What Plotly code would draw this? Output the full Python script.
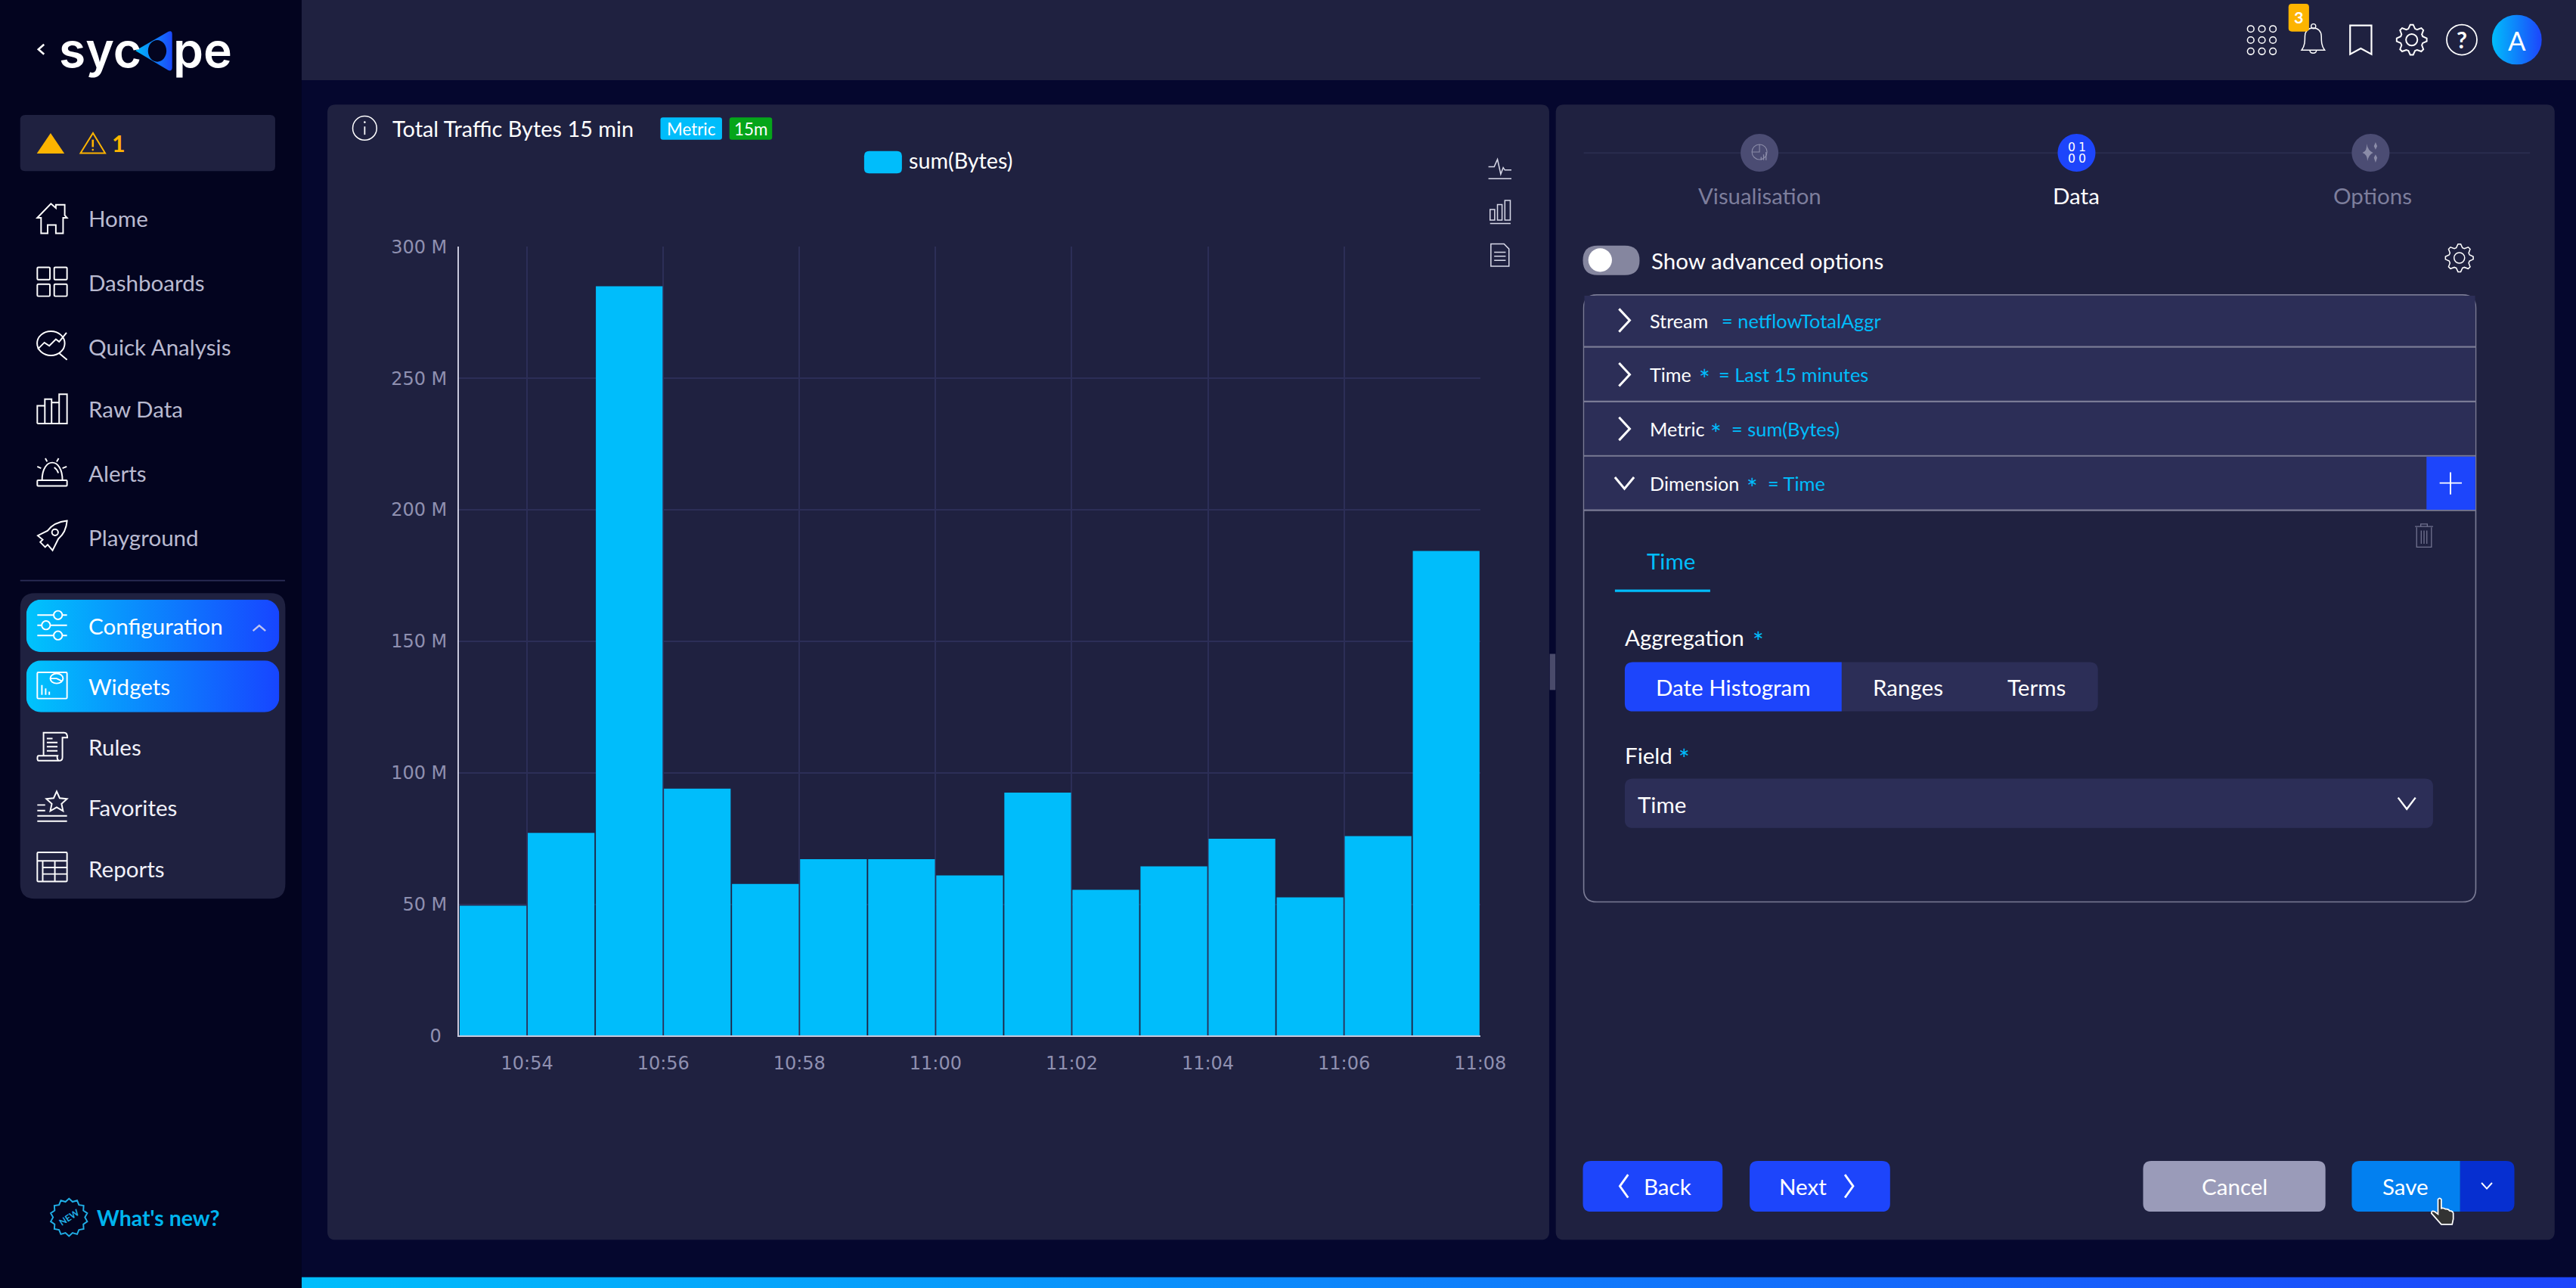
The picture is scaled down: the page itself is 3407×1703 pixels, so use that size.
import base64, math
import plotly.graph_objects as go

# ---------- chart data ----------
BAR_MINUTES = ["10:53", "10:54", "10:55", "10:56", "10:57", "10:58", "10:59", "11:00",
               "11:01", "11:02", "11:03", "11:04", "11:05", "11:06", "11:07"]
BYTES_M = [49.4, 77.1, 285, 93.9, 57.7, 67.1, 67.1, 60.9, 92.4, 55.5, 64.4, 74.9, 52.6, 75.9, 184.3]
X_TICKS = ["10:54", "10:56", "10:58", "11:00", "11:02", "11:04", "11:06", "11:08"]
Y_TICK_VALUES_M = [0, 50, 100, 150, 200, 250, 300]
Y_TICK_LABELS = ["0\u00a0", "50 M", "100 M", "150 M", "200 M", "250 M", "300 M"]
SERIES_NAME = "sum(Bytes)"
DAY = "2023-01-01"

# ---------- page geometry: chrome is described in the screenshot's 1568x784 layout units ----------
PX_W, PX_H = 3407, 1703
W, H = 1568.0, 784.0
S = PX_W / W
FONT = "Lato"
BG, SIDE, PANEL, ROW = "#05072e", "#03041f", "#1f2140", "#2c2e57"
BLUE, CYAN, AMBER = "#1d45fb", "#00bdfb", "#fdb400"
BORDER = "#7a7b95"

shapes, notes, images = [], [], []


def fx(x):
    return x / W


def fy(y):
    return 1 - y / H


def path(d, fill=None, line=None, lw=1.0, layer="above"):
    toks = d.replace(",", " ").split()
    out, i, cmd, axis = [], 0, "", 0
    for t in toks:
        if t.isalpha():
            cmd, axis = t, 0
            out.append(t)
        else:
            v = float(t)
            if cmd == "H":
                out.append(f"{fx(v):.6f}")
            elif cmd == "V":
                out.append(f"{fy(v):.6f}")
            else:
                out.append(f"{fx(v):.6f}" if axis == 0 else f"{fy(v):.6f}")
                axis = 1 - axis
    shapes.append(dict(type="path", xref="paper", yref="paper", path=" ".join(out),
                       fillcolor=fill or "rgba(0,0,0,0)",
                       line=dict(color=line or "rgba(0,0,0,0)", width=lw * S if line else 0),
                       layer=layer))


def rr(x0, y0, x1, y1, r=0):
    if r <= 0:
        return f"M {x0} {y0} L {x1} {y0} L {x1} {y1} L {x0} {y1} Z"
    return (f"M {x0+r} {y0} L {x1-r} {y0} Q {x1} {y0} {x1} {y0+r} L {x1} {y1-r} Q {x1} {y1} {x1-r} {y1} "
            f"L {x0+r} {y1} Q {x0} {y1} {x0} {y1-r} L {x0} {y0+r} Q {x0} {y0} {x0+r} {y0} Z")


def rect(x0, y0, x1, y1, fill=None, r=0, line=None, lw=1.0, layer="below"):
    path(rr(x0, y0, x1, y1, r), fill, line, lw, layer)


def ell(cx, cy, rx, ry=None):
    ry = rx if ry is None else ry
    k = 0.5523
    return (f"M {cx-rx} {cy} C {cx-rx} {cy-k*ry} {cx-k*rx} {cy-ry} {cx} {cy-ry} "
            f"C {cx+k*rx} {cy-ry} {cx+rx} {cy-k*ry} {cx+rx} {cy} "
            f"C {cx+rx} {cy+k*ry} {cx+k*rx} {cy+ry} {cx} {cy+ry} "
            f"C {cx-k*rx} {cy+ry} {cx-rx} {cy+k*ry} {cx-rx} {cy} Z")


def circ(cx, cy, rx, fill=None, line=None, lw=1.0, layer="above"):
    path(ell(cx, cy, rx), fill, line, lw, layer)


def text(x, y, s, size, color="#ffffff", anchor="left", bold=False, font=FONT, angle=0, weight=None):
    f = dict(family=font, size=size * S, color=color)
    if weight:
        f["weight"] = weight
    notes.append(dict(x=fx(x), y=fy(y), xref="paper", yref="paper", text=f"<b>{s}</b>" if bold else s,
                      showarrow=False, xanchor=anchor, yanchor="middle", textangle=angle,
                      font=f, borderpad=0, borderwidth=0))


def grad(x0, y0, x1, y1, body, c1, c2):
    w, h = x1 - x0, y1 - y0
    svg = (f'<svg xmlns="http://www.w3.org/2000/svg" width="{w*S:.0f}" height="{h*S:.0f}" '
           f'viewBox="{x0} {y0} {w} {h}" preserveAspectRatio="none"><defs>'
           f'<linearGradient id="g" gradientUnits="userSpaceOnUse" x1="{x0}" y1="0" x2="{x1}" y2="0">'
           f'<stop offset="0" stop-color="{c1}"/><stop offset="1" stop-color="{c2}"/></linearGradient></defs>'
           f'{body}</svg>')
    src = "data:image/svg+xml;base64," + base64.b64encode(svg.encode()).decode()
    images.append(dict(source=src, xref="paper", yref="paper", x=fx(x0), y=fy(y0), sizex=w / W, sizey=h / H,
                       xanchor="left", yanchor="top", sizing="stretch", layer="above"))


def grad_rect(x0, y0, x1, y1, r, c1, c2):
    grad(x0, y0, x1, y1, f'<rect x="{x0}" y="{y0}" width="{x1-x0}" height="{y1-y0}" rx="{r}" ry="{r}" fill="url(#g)"/>', c1, c2)


def gear(cx, cy, r, lw=1.0, color="#ffffff", teeth=8):
    pts = []
    for i in range(teeth * 4):
        a = 2 * math.pi * (i - 0.5) / (teeth * 4)
        rad = r if i % 4 in (0, 1) else r * 0.76
        pts.append((cx + rad * math.sin(a), cy - rad * math.cos(a)))
    d = "M " + " L ".join(f"{p[0]:.2f} {p[1]:.2f}" for p in pts) + " Z"
    path(d, None, color, lw)
    circ(cx, cy, r * 0.38, None, color, lw)


def star(cx, cy, ro, ri, n, rot=0.0):
    pts = []
    for i in range(2 * n):
        a = rot + math.pi * i / n
        rad = ro if i % 2 == 0 else ri
        pts.append((cx + rad * math.sin(a), cy - rad * math.cos(a)))
    return "M " + " L ".join(f"{p[0]:.2f} {p[1]:.2f}" for p in pts) + " Z"


# ---------- page blocks ----------
rect(0, 0, 183.6, 784, SIDE)
rect(183.6, 0, 1568, 48.8, PANEL)
rect(199.3, 63.7, 943, 754.7, PANEL, r=5)
rect(947, 63.7, 1555, 754.7, PANEL, r=5)
rect(943.3, 398, 946.8, 420, "#4a4b6b")
grad_rect(183.6, 777.3, 1568, 784, 0, "#00bdfb", "#1d45fb")

# ---------- top bar ----------
for cy in (17.6, 24.4, 31.2):
    for cx in (1370, 1376.8, 1383.5):
        circ(cx, cy, 2.0, None, "#ffffff", 0.7)
path("M 1401 30.5 C 1403 28 1403 25 1403 22 C 1403 19 1405 17 1408 17 C 1411 17 1413 19 1413 22 C 1413 25 1413 28 1415 30.5 Z", None, "#ffffff", 0.7)
circ(1408.2, 16, 1.4, None, "#ffffff", 0.6)
path("M 1406 30.5 C 1406 33 1410 33 1410 30.5", None, "#ffffff", 0.7)
rect(1393, 2.3, 1405.5, 19.2, AMBER, r=2, layer="above")
text(1399.2, 10.8, "3", 10, "#ffffff", "center", True)
path("M 1430.5 15.5 H 1443.5 V 33 L 1437 29.5 L 1430.5 33 Z", None, "#ffffff", 1.0)
gear(1468, 24.2, 9.2, 0.9)
circ(1498.5, 24.2, 9.2, None, "#ffffff", 0.8)
text(1498.5, 23.8, "?", 14, "#ffffff", "center", True)
grad(1516.8, 9, 1547.2, 39.4, '<circle cx="1532" cy="24.2" r="15.2" fill="url(#g)"/>', "#00bdfb", "#1d45fb")
text(1532, 24.5, "A", 16, "#ffffff", "center")

# ---------- sidebar ----------
path("M 26.8 27 L 23.4 30 L 26.8 33", None, "#ffffff", 1.2)
text(36, 30.3, "syc", 29.5, "#ffffff", "left", False, "Inter", weight=600)
text(105.3, 30.3, "pe", 29.5, "#ffffff", "left", False, "Inter", weight=600)
grad(82, 18, 105.5, 44, '<path d="M 82.4 30.8 L 102.5 19.2 Q 104.8 18.2 104.8 21 L 104.8 41 Q 104.8 43.6 102.5 42.8 Z" fill="url(#g)"/>', "#00bdfb", "#1d45fb")
path(ell(95.7, 31, 5.6, 6.6), SIDE)
rect(12.3, 70, 167.5, 104.2, PANEL, r=3)
path("M 22.4 93.5 L 30.8 81 L 39.2 93.5 Z", AMBER)
path("M 49 93.2 L 56.6 81 L 64 93.2 Z", None, AMBER, 0.9)
path("M 56.5 85 V 89.5", None, AMBER, 1.2)
circ(56.5, 91.2, 0.6, AMBER)
text(68, 87, "1", 14, AMBER, "left", True)

NAV_TOP = [("Home", 133), ("Dashboards", 172), ("Quick Analysis", 211), ("Raw Data", 249), ("Alerts", 288), ("Playground", 327)]
for name, y in NAV_TOP:
    text(54, y, name, 13.6, "#b9bad0")
ic = dict(fill=None, line="#ffffff", lw=0.9)
path("M 22.7 132.6 L 31 124 L 34 126.6 L 34 124.6 L 39.4 124.6 L 39.4 131 L 40.8 132.6 H 38.4 V 142 H 34 V 137 H 29 V 142 H 25 V 132.6 Z", **ic)
for a, b in [(22.7, 30.4), (33, 40.8)]:
    for c, d in [(162.7, 170.2), (173, 180.3)]:
        path(rr(a, c, b, d, 0.6), **ic)
path(ell(31, 209, 8.4, 7.4), **ic)
path("M 23 212.5 L 27 208.5 L 30 210.5 L 34 206.5 L 36 208 L 40.5 202.5 M 36 215 L 40.8 219", **ic)
path("M 22.7 257.8 V 247 H 27.3 V 243 H 31.4 V 257.8 M 31.4 245 H 36 V 240 H 40.8 V 257.8 H 22.7 M 27.3 247 V 257.8 M 36 245 V 257.8", **ic)
path(rr(22.7, 292.3, 40.8, 295.8, 0.5), **ic)
path("M 25.6 292.3 C 25.6 278 38 278 38 292.3 M 22.7 284 L 25 285 M 27.6 279 L 28.7 281 M 35.7 279 L 34.5 281 M 40.6 284 L 38 285 M 33 284.5 C 34 285.2 35 286 35.5 288", **ic)
path("M 40.8 317 C 36 317.5 32 319 29 323 L 23 326 L 26 328.5 L 24.5 330 L 27.5 333 L 29 331.5 L 32 335 L 35.5 328 C 39 325 40.5 321 40.8 317 Z", **ic)
circ(33.5, 324, 1.9, **ic)
rect(12.3, 353, 173.5, 353.8, "#2c2e57")

rect(12.3, 361, 173.7, 547, PANEL, r=9)
grad_rect(16, 365, 170, 397, 9, "#00c4fc", "#1745ff")
grad_rect(16, 402, 170, 433.5, 9, "#00c4fc", "#1745ff")
for name, y, col in [("Configuration", 381, "#ffffff"), ("Widgets", 418, "#ffffff"), ("Rules", 454.5, "#f0f0f8"),
                     ("Favorites", 491.5, "#f0f0f8"), ("Reports", 528.5, "#f0f0f8")]:
    text(54, y, name, 13.6, col)
path("M 154 384 L 157.8 380.8 L 161.6 384", None, "#c0c4f0", 1.1)
path("M 22.7 374.4 H 32.5 M 38 374.4 H 40.8 M 22.7 380.6 H 25.5 M 30.5 380.6 H 40.8 M 22.7 386.8 H 32.5 M 38 386.8 H 40.8", **ic)
circ(35.3, 374.4, 2.6, **ic)
circ(28, 380.6, 2.6, **ic)
circ(35.3, 386.8, 2.6, **ic)
path(rr(22.7, 409.3, 40.8, 425.2, 0.6), **ic)
path("M 25.5 417 V 423 M 27.8 419 V 423 M 30 421 V 423", **ic)
path(ell(34.5, 413, 3.9, 3) + " M 31 413 H 34.5 L 37.5 414.5", **ic)
path("M 26.5 446 H 39 C 40.5 446 41 447 41 449 H 38 V 461 C 38 462.5 37 463 36 463 H 23.5 C 22.5 463 22.5 460 23.5 460 H 26.5 Z M 36 463 C 35 463 34.5 461 35 460 H 26.5", **ic)
path("M 28.5 449.5 H 32 M 28.5 452 H 35 M 28.5 454.5 H 35 M 28.5 457 H 35", **ic)
path(star(34.5, 488.3, 6.6, 3.1, 5), **ic)
path("M 22.7 490 H 27.5 M 22.7 493.4 H 27.5 M 22.7 496.6 H 40.8 M 22.7 499.8 H 40.8", **ic)
path(rr(22.7, 518.8, 40.8, 536.6, 0.6), **ic)
path("M 22.7 524 H 40.8 M 26 528 H 40.8 M 26 532 H 40.8 M 26 524 V 536.6 M 33.4 524 V 536.6", **ic)

path(star(42, 741, 11.4, 9.7, 14), None, "#20aee6", 0.9)
text(42, 741, "NEW", 5.5, "#20aee6", "center", True, angle=-33)
text(59, 741, "What's new?", 13.1, "#00b4ee", "left", True)

# ---------- left panel: chart header ----------
circ(222, 78, 7.3, None, "#ffffff", 0.7)
path("M 222 77 V 82", None, "#ffffff", 0.8)
circ(222, 74.4, 0.6, "#ffffff")
text(239, 78, "Total Traffic Bytes 15 min", 13.3)
rect(402, 71.5, 439.5, 85, CYAN, r=1.5, layer="above")
text(420.7, 78.3, "Metric", 10.3, "#ffffff", "center")
rect(444, 71.5, 470, 85, "#05a51a", r=1.5, layer="above")
text(457, 78.3, "15m", 10.3, "#ffffff", "center")
rect(526, 92, 549, 105.5, CYAN, r=3, layer="above")
text(553, 97.8, SERIES_NAME, 13.2)
sw = "#d8d9e8"
path("M 906 101.5 H 909.5 L 911.5 97 L 913.5 106 L 915 102 L 916 103.5 H 920 M 906 108.8 H 920", None, sw, 0.7)
path(rr(907, 127.5, 909.8, 134, 0) + " " + rr(911.5, 124.5, 914.3, 134, 0) + " " + rr(916, 122, 919.3, 134, 0) + " M 907 136 H 919.5", None, sw, 0.7)
path("M 907.5 148.5 H 915.5 L 918.5 151.5 V 162 H 907.5 Z M 909.5 153.5 H 916.5 M 909.5 156 H 916.5 M 909.5 158.5 H 916.5", None, sw, 0.7)

# ---------- right panel ----------
rect(964, 92.6, 1540, 93.6, "#2a2c4e")
for cx, col in [(1071, "#4b4c73"), (1264, BLUE), (1443, "#4b4c73")]:
    circ(cx, 93, 11.5, col)
path(ell(1071, 92.5, 4.6) + " M 1071 88 V 92.5 H 1066.4", None, "#8b8ca8", 0.5)
path("M 1072 97.5 V 95.5 M 1073.5 97.5 V 94 M 1075 97.5 V 92.5", None, "#8b8ca8", 0.6)
path("M 1440.5 87.5 Q 1441 92 1438 93 Q 1441 94 1441 98 Q 1442 94 1444.5 93 Q 1441.5 92 1440.5 87.5 Z M 1446 86.5 L 1447 89 L 1446 91 L 1445 89 Z M 1446 94 L 1447 96 L 1446 99 L 1445 96 Z", "#8b8ca8")
for cx, cy, ch in [(1260.8, 89.6, "0"), (1267.3, 89.6, "1"), (1260.8, 96.6, "0"), (1267.3, 96.6, "0")]:
    text(cx, cy, ch, 7.2, "#ffffff", "center", font="DejaVu Sans")
text(1071, 119, "Visualisation", 13.5, "#7d7e9c", "center")
text(1264, 119, "Data", 13.6, "#ffffff", "center")
text(1444, 119, "Options", 13.6, "#7d7e9c", "center")

rect(963.5, 149.5, 998, 167.5, "#85869f", r=9, layer="above")
circ(974, 158.3, 7.2, "#ffffff")
text(1005, 158.5, "Show advanced options", 13.6)
gear(1497, 157, 8.5, 0.7)

rect(964, 179.5, 1507, 549, None, r=8, line=BORDER, lw=0.75)
for y0, y1 in [(180, 210.8), (211.5, 244), (244.8, 277), (277.8, 310.3)]:
    rect(964.4, y0, 1506.6, y1, ROW, r=0)
for y in (211.1, 244.4, 277.5, 310.6):
    rect(964, y - 0.5, 1507, y + 0.5, BORDER)
for y in (195, 228, 261):
    path(f"M 985.5 {y-7} L 992 {y} L 985.5 {y+7}", None, "#ffffff", 1.4)
path("M 983 290.5 L 988.8 297.5 L 994.6 290.5", None, "#ffffff", 1.4)

ROWS = [(195, "Stream", None, 1048, "= netflowTotalAggr"), (228, "Time", 1034, 1046, "= Last 15 minutes"),
        (261, "Metric", 1041, 1054, "= sum(Bytes)"), (294, "Dimension", 1063, 1076, "= Time")]
for y, lab, star_x, vx, val in ROWS:
    text(1004, y, lab, 11.6)
    if star_x:
        text(star_x, y + 2.5, "*", 16, CYAN)
    text(vx, y, val, 11.7, CYAN)
rect(1477, 278, 1506.7, 310.3, BLUE, layer="above")
path("M 1491.6 287.5 V 301 M 1485 294 H 1498.5", None, "#ffffff", 0.9)
path("M 1470 320.5 H 1481 M 1473.5 320.5 V 319 H 1477.5 V 320.5 M 1471 321 V 333 H 1480 V 321 M 1473.8 323 V 331 M 1475.5 323 V 331 M 1477.2 323 V 331", None, "#71728f", 0.6)
text(1017, 341.5, "Time", 13.6, CYAN, "center")
rect(983, 358.8, 1041, 360.4, CYAN)
text(989, 388, "Aggregation", 13.6)
text(1067, 390, "*", 16, CYAN)
rect(989, 403, 1277, 433, ROW, r=5)
path("M 994 403 H 1121 V 433 H 994 Q 989 433 989 428 V 408 Q 989 403 994 403 Z", BLUE, layer="below")
text(1055, 418.3, "Date Histogram", 13.6, "#ffffff", "center")
text(1161.5, 418.3, "Ranges", 13.6, "#ffffff", "center")
text(1239.5, 418.3, "Terms", 13.6, "#ffffff", "center")
text(989, 459.5, "Field", 13.6)
text(1021.5, 461.5, "*", 16, CYAN)
rect(989, 474, 1481, 504, ROW, r=5)
text(997, 489.5, "Time", 13.6)
path("M 1459.7 485.5 L 1465 492.5 L 1470.3 485.5", None, "#ffffff", 1.1)

rect(963.5, 706.7, 1048.5, 737.5, BLUE, r=5, layer="above")
rect(1065, 706.7, 1150.5, 737.5, BLUE, r=5, layer="above")
rect(1304.5, 706.7, 1415.5, 737.5, "#9a9bb9", r=5, layer="above")
path("M 1436.5 706.7 H 1497.5 V 737.5 H 1436.5 Q 1431.5 737.5 1431.5 732.5 V 711.7 Q 1431.5 706.7 1436.5 706.7 Z", "#0280f0")
path("M 1497.5 706.7 H 1525.5 Q 1530.5 706.7 1530.5 711.7 V 732.5 Q 1530.5 737.5 1525.5 737.5 H 1497.5 Z", "#062fd0")
path("M 991 715 L 986 722 L 991 729", None, "#ffffff", 1.3)
path("M 1123 715 L 1128 722 L 1123 729", None, "#ffffff", 1.3)
text(1015, 722.3, "Back", 13.6, "#ffffff", "center")
text(1097.5, 722.3, "Next", 13.6, "#ffffff", "center")
text(1360, 722.3, "Cancel", 13.6, "#ffffff", "center")
text(1464, 722.3, "Save", 13.6, "#ffffff", "center")
path("M 1510.5 720 L 1513.7 723.5 L 1516.9 720", None, "#ffffff", 0.9)
path("M 1484 730 Q 1485 728.8 1486 730 V 735.5 Q 1487.5 735 1488.5 736 Q 1490.5 735.8 1491 737 Q 1493 737 1493.3 738.5 V 742 L 1492.6 745.3 H 1486 L 1480 738.5 Q 1480 736.5 1482 737.5 L 1484 739 Z", "#333333", "#ffffff", 0.8)

# ---------- the chart, through Plotly's own scales ----------
fig = go.Figure(go.Bar(
    x=[f"{DAY} {m}:30" for m in BAR_MINUTES],
    y=[v * 1e6 for v in BYTES_M],
    name=SERIES_NAME,
    marker=dict(color=CYAN, line=dict(width=0)),
))
fig.update_layout(
    width=PX_W, height=PX_H, margin=dict(l=0, r=0, t=0, b=0, pad=0), autosize=False,
    paper_bgcolor=BG, plot_bgcolor="rgba(0,0,0,0)", showlegend=False, bargap=0.02,
    font=dict(family="DejaVu Sans"), shapes=shapes, annotations=notes, images=images,
    xaxis=dict(type="date", domain=[279.4 / W, 901 / W], range=[f"{DAY} 10:53", f"{DAY} 11:08"], automargin=False,
               tickmode="array", tickvals=[f"{DAY} {t}" for t in X_TICKS], ticktext=X_TICKS,
               showgrid=True, gridcolor=ROW, gridwidth=2, zeroline=False,
               showline=True, linecolor="#c8c9dc", linewidth=2,
               ticks="outside", ticklen=14, tickcolor="rgba(0,0,0,0)", tickwidth=1,
               tickfont=dict(family="DejaVu Sans", size=24, color="#8f90b0")),
    yaxis=dict(domain=[1 - 630.4 / H, 1 - 150.2 / H], range=[0, 300e6], automargin=False,
               tickmode="array", tickvals=[v * 1e6 for v in Y_TICK_VALUES_M], ticktext=Y_TICK_LABELS,
               showgrid=True, gridcolor=ROW, gridwidth=2, zeroline=False,
               showline=True, linecolor="#c8c9dc", linewidth=2,
               ticks="outside", ticklen=9, tickcolor="rgba(0,0,0,0)", tickwidth=1,
               tickfont=dict(family="DejaVu Sans", size=24, color="#8f90b0")),
)
fig.write_html("out.html", config=dict(displayModeBar=False),
               post_script="document.body.style.margin='0';document.body.style.overflow='hidden';")
